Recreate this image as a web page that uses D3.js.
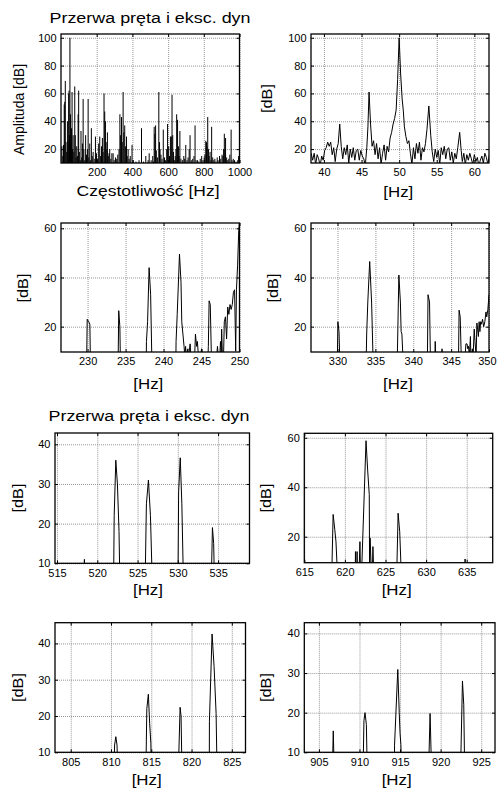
<!DOCTYPE html>
<html><head><meta charset="utf-8">
<script src="https://cdn.jsdelivr.net/npm/d3@7"></script>
<style>
body{margin:0;background:#fff}
svg{display:block}
text{font-family:"Liberation Sans",Arial,sans-serif;fill:#000}
</style>
</head><body>
<svg id="c" width="497" height="789"></svg>
<script>
// ---------- DATA ----------
const titleText = "Przerwa pręta i eksc. dyn";
const xLabelMain = "Częstotliwość [Hz]";
const yLabelMain = "Amplituda [dB]";
const xLabel = "[Hz]";
const yLabel = "[dB]";

// Panel 1: full spectrum spikes [Hz, dB]
const spectrumSpikes = [[5,22],[10,15],[14,23],[18,52],[21,54],[24,69],[28,25],[32,18],[36,40],[40,26],[43,60],[45,62],[48,30],[50,100],[53,45],[56,24],[59,35],[62,61],[65,20],[68,30],[72,18],[77,65],[80,30],[84,14],[88,22],[92,15],[96,45],[99,62],[103,18],[108,12],[112,33],[116,14],[120,24],[124,56],[128,20],[133,12],[138,30],[143,16],[148,20],[152,56],[156,14],[161,24],[166,12],[170,35],[175,15],[180,18],[186,13],[193,29],[199,17],[205,13],[211,24],[217,29],[222,15],[227,22],[232,28],[236,18],[241,60],[245,47],[249,40],[253,25],[257,20],[260,32],[265,15],[269,17],[273,20],[279,13],[285,17],[292,17],[298,12],[305,14],[312,13],[318,16],[325,20],[330,45],[334,30],[339,43],[343,25],[348,61],[352,32],[357,37],[362,22],[367,29],[371,15],[376,20],[382,13],[388,15],[398,23],[405,12],[420,11],[437,12],[451,35],[462,11],[475,15],[488,12],[494,17],[505,12],[514,15],[518,11],[522,36],[526,31],[530,37],[534,19],[540,14],[548,61],[552,25],[555,20],[560,16],[566,13],[573,34],[580,14],[586,12],[592,20],[597,38],[603,22],[608,15],[613,29],[618,29],[622,59],[626,30],[630,18],[635,12],[640,15],[644,20],[648,45],[653,41],[658,22],[662,15],[666,33],[672,13],[680,12],[688,15],[693,13],[699,23],[706,12],[712,14],[718,20],[723,30],[730,12],[738,13],[745,15],[751,37],[757,12],[765,12],[772,11],[780,13],[788,15],[795,12],[802,14],[806,16],[811,26],[815,25],[818,22],[822,43],[826,20],[830,15],[835,18],[840,12],[844,36],[850,14],[856,12],[862,13],[868,11],[875,14],[880,12],[888,15],[895,13],[902,16],[907,15],[911,20],[915,31],[919,20],[922,28],[928,14],[934,12],[940,13],[946,16],[953,34],[958,12],[965,13],[972,12],[980,11],[990,12],[995,15]];

// Panel 2: 38–62 Hz
const band50 = [[38.3,17],[38.5,12],[38.7,17],[38.9,9],[39.1,16],[39.3,13],[39.5,8],[39.7,15],[39.9,12],[40.1,19],[40.3,21],[40.5,25],[40.7,22],[40.9,25],[41.1,16],[41.3,21],[41.5,11],[41.7,20],[41.9,24],[42.1,38],[42.3,22],[42.5,13],[42.7,21],[42.9,16],[43.1,23],[43.3,10],[43.5,20],[43.7,14],[43.9,21],[44.1,12],[44.3,19],[44.5,20],[44.7,12],[44.9,19],[45.1,15],[45.3,13],[45.5,8],[45.7,21],[45.85,36],[46.0,61],[46.2,38],[46.4,22],[46.6,26],[46.8,16],[47.0,24],[47.2,13],[47.4,21],[47.6,9],[47.8,17],[48.0,23],[48.2,12],[48.4,22],[48.6,18],[48.8,28],[49.0,32],[49.2,38],[49.4,42],[49.6,48],[49.8,70],[50.0,100],[50.2,74],[50.4,56],[50.55,48],[50.7,36],[50.9,29],[51.1,24],[51.3,26],[51.5,17],[51.7,9],[51.9,21],[52.1,13],[52.3,24],[52.5,17],[52.7,25],[52.9,12],[53.1,21],[53.3,18],[53.5,24],[53.7,34],[53.95,51],[54.2,30],[54.4,18],[54.6,11],[54.8,20],[55.0,14],[55.2,19],[55.4,9],[55.6,21],[55.8,16],[56.0,22],[56.2,13],[56.4,20],[56.6,21],[56.8,12],[57.0,18],[57.2,10],[57.4,17],[57.6,13],[57.8,21],[58.05,32],[58.25,19],[58.4,11],[58.6,17],[58.8,9],[59.0,16],[59.2,12],[59.4,17],[59.6,13],[59.8,9],[60.0,16],[60.2,11],[60.4,14],[60.6,8],[60.8,12],[61.0,15],[61.2,10],[61.4,17],[61.6,14],[61.8,9],[62.0,16]];

// Panel 3: 226–250 Hz
const band240 = [[229.85,0],[229.95,23],[230.15,22],[230.3,21],[230.4,0],[234.0,0],[234.1,26.5],[234.25,20],[234.35,0],[237.7,0],[237.75,14],[237.9,22],[238.1,44],[238.3,33],[238.5,0],[241.6,0],[241.65,14],[241.8,25],[242.1,49.5],[242.3,38],[242.4,22],[242.55,17],[242.7,12],[242.8,8],[242.9,12],[243.0,8],[243.2,11],[243.3,8],[243.5,13],[243.6,8],[244.1,8],[244.2,17],[244.35,12],[244.45,14],[244.6,8],[244.9,8],[245.0,11],[245.1,8],[245.85,8],[245.9,12],[246.0,30.5],[246.15,29],[246.3,8],[247.0,8],[247.1,12],[247.2,8],[247.4,8],[247.5,14],[247.6,8],[247.65,19],[247.75,8],[247.9,8],[248.0,22],[248.15,24],[248.3,15],[248.45,28],[248.6,25],[248.75,29],[248.9,27],[249.05,29],[249.2,34],[249.35,35],[249.5,10],[249.6,35],[249.75,45],[249.9,59],[250,63]];

// Panel 4: 326–350 Hz
const band340 = [[329.95,0],[330.05,22],[330.2,18],[330.35,0],[333.75,0],[333.85,17],[334.0,30],[334.25,46.5],[334.5,30],[334.75,0],[337.85,0],[338.1,41],[338.3,30],[338.4,18],[338.5,17],[338.75,0],[341.85,0],[341.95,33],[342.15,30],[342.3,0],[342.8,0],[342.9,14],[343.05,0],[343.75,0],[343.8,11],[343.85,0],[345.95,0],[346.05,26.7],[346.2,24],[346.4,0],[346.85,8],[346.95,13],[347.1,13],[347.2,11],[347.3,12],[347.4,8],[347.55,16],[347.6,8],[347.7,8],[347.8,11],[347.9,8],[348.05,19],[348.15,14],[348.3,8],[348.4,21.5],[348.5,19],[348.6,16],[348.7,22],[348.8,18],[348.9,22],[349.0,21],[349.15,23],[349.3,20],[349.45,22],[349.6,26],[349.7,24],[349.85,27],[350,33]];

// Panel 5: 515–539 Hz
const band525 = [[518.35,0],[518.4,11],[518.45,0],[522.0,0],[522.1,22],[522.3,36],[522.5,30],[522.7,18],[522.85,0],[525.9,0],[526.1,25],[526.35,31],[526.6,22],[526.9,0],[530.0,0],[530.1,28],[530.3,36.6],[530.5,25],[530.75,0],[534.1,0],[534.3,19],[534.45,15],[534.6,0]];

// Panel 6: 615–638 Hz
const band625 = [[618.35,0],[618.55,29],[618.75,23],[618.9,18],[619.15,0],[621.25,0],[621.3,14],[621.35,0],[621.45,0],[621.5,14],[621.55,0],[621.7,0],[621.85,18],[621.95,0],[622.0,0],[622.6,58.8],[622.8,47],[623.0,37],[623.05,0],[623.1,19.5],[623.2,11],[623.35,0],[623.45,16],[623.6,0],[626.35,0],[626.55,29.5],[626.75,22],[627.0,0],[634.75,0],[634.8,11],[634.85,0]];

// Panel 7: 803–827 Hz
const band815 = [[810.3,0],[810.45,12],[810.6,14.3],[810.75,12],[810.9,0],[814.3,0],[814.45,22],[814.64,26],[814.8,18],[814.95,12.5],[815.05,0],[818.3,0],[818.58,22.4],[818.7,20],[818.85,0],[822.2,0],[822.22,18.4],[822.55,42.6],[822.8,33.6],[823.05,20.7],[823.2,0]];

// Panel 8: 903–927 Hz
const band915 = [[906.6,0],[906.77,15.4],[906.95,0],[910.4,0],[910.55,18],[910.68,20],[910.85,17],[911.0,0],[914.3,0],[914.32,11.8],[914.72,30.9],[914.9,20],[915.0,14.8],[915.1,12],[915.25,0],[918.45,0],[918.7,19.8],[918.95,0],[922.4,0],[922.69,28],[922.85,22],[923.0,0]];

// Tick values
const ticksX = [[200,400,600,800,1000],[40,45,50,55,60],[230,235,240,245,250],[330,335,340,345,350],[515,520,525,530,535],[615,620,625,630,635],[805,810,815,820,825],[905,910,915,920,925]];
const ticksY = [[20,40,60,80,100],[20,40,60,80,100],[20,40,60],[20,40,60],[10,20,30,40],[20,40,60],[10,20,30,40],[10,20,30,40]];
const domainsX = [[0,1000],[38.28,61.95],[226.5,250],[326.5,350],[514.75,538.9],[615,638.2],[803.05,826.7],[903.2,926.7]];
const domainsY = [[10,102.7],[10,102.7],[9.7,62.15],[9.7,62.15],[10,42.85],[9.5,61.8],[10,45.7],[10,42.7]];
const series = [spectrumSpikes, band50, band240, band340, band525, band625, band815, band915];

// ---------- LAYOUT ----------
const boxes = [
  {x0:61, x1:239.5, y0:34, y1:163},
  {x0:311, x1:489, y0:34, y1:163},
  {x0:61, x1:239.5, y0:223, y1:352},
  {x0:311, x1:489, y0:223, y1:352},
  {x0:55, x1:249.5, y0:433, y1:563.3},
  {x0:304.3, x1:492.7, y0:433.3, y1:562.7},
  {x0:55, x1:245.5, y0:622.7, y1:752.3},
  {x0:304.3, x1:495, y0:622.7, y1:752.3}
];

const svg = d3.select("#c");
const defs = svg.append("defs");

boxes.forEach((b, i) => {
  const x = d3.scaleLinear().domain(domainsX[i]).range([b.x0, b.x1]);
  const y = d3.scaleLinear().domain(domainsY[i]).range([b.y1, b.y0]);
  const w = b.x1 - b.x0, h = b.y1 - b.y0;
  defs.append("clipPath").attr("id", "clip" + i)
    .append("rect").attr("x", b.x0).attr("y", b.y0).attr("width", w).attr("height", h);
  const g = svg.append("g");

  // grid
  const gx = g.append("g").attr("transform", `translate(0,${b.y1})`)
    .call(d3.axisBottom(x).tickValues(ticksX[i]).tickSize(-h).tickFormat(""));
  const gy = g.append("g").attr("transform", `translate(${b.x0},0)`)
    .call(d3.axisLeft(y).tickValues(ticksY[i]).tickSize(-w).tickFormat(""));
  [gx, gy].forEach(a => {
    a.select(".domain").remove();
    a.selectAll("line").attr("stroke", "#8a8a8a").attr("stroke-width", 0.9).attr("stroke-dasharray", "1,1");
  });

  // data
  const dg = g.append("g").attr("clip-path", `url(#clip${i})`);
  if (i === 0) {
    dg.selectAll("line").data(series[0]).join("line")
      .attr("x1", d => x(d[0])).attr("x2", d => x(d[0]))
      .attr("y1", y(domainsY[0][0])).attr("y2", d => y(d[1]))
      .attr("stroke", "#000").attr("stroke-width", 1);
  } else {
    dg.append("path").datum(series[i])
      .attr("d", d3.line().x(d => x(d[0])).y(d => y(d[1])))
      .attr("fill", "none").attr("stroke", "#000").attr("stroke-width", 1)
      .attr("stroke-linejoin", "round");
  }

  // tick labels
  const lx = g.append("g").attr("transform", `translate(0,${b.y1})`)
    .call(d3.axisBottom(x).tickValues(ticksX[i]).tickSize(0).tickPadding(5.5).tickFormat(d3.format("d")));
  const ly = g.append("g").attr("transform", `translate(${b.x0},0)`)
    .call(d3.axisLeft(y).tickValues(ticksY[i]).tickSize(0).tickPadding(4.5).tickFormat(d3.format("d")));
  [lx, ly].forEach(a => {
    a.select(".domain").remove();
    a.selectAll("text").attr("font-size", 11).attr("font-family", "Liberation Sans, Arial, sans-serif").attr("fill", "#000");
  });
  // keep the right-most label of the right column inside the window
  lx.selectAll("text").filter(d => x(d) + 10 > 497).attr("text-anchor", "end").attr("dx", 0).attr("x", d => 496 - x(d));

  // inward ticks on all four sides
  const tk = [
    g.append("g").attr("transform", `translate(0,${b.y1})`).call(d3.axisBottom(x).tickValues(ticksX[i]).tickSize(-3).tickFormat("")),
    g.append("g").attr("transform", `translate(0,${b.y0})`).call(d3.axisTop(x).tickValues(ticksX[i]).tickSize(-3).tickFormat("")),
    g.append("g").attr("transform", `translate(${b.x0},0)`).call(d3.axisLeft(y).tickValues(ticksY[i]).tickSize(-3).tickFormat("")),
    g.append("g").attr("transform", `translate(${b.x1},0)`).call(d3.axisRight(y).tickValues(ticksY[i]).tickSize(-3).tickFormat(""))
  ];
  tk.forEach(a => { a.select(".domain").remove(); a.selectAll("line").attr("stroke", "#000"); });

  // frame
  g.append("rect").attr("x", b.x0).attr("y", b.y0).attr("width", w).attr("height", h)
    .attr("fill", "none").attr("stroke", "#000").attr("stroke-width", 1.3);
});

// ---------- TEXT LABELS ----------
function hText(str, cx, base, size, len) {
  const t = svg.append("text").attr("x", cx).attr("y", base).attr("text-anchor", "middle")
    .attr("font-size", size).text(str);
  if (len) t.attr("textLength", len).attr("lengthAdjust", "spacingAndGlyphs");
  return t;
}
function vText(str, cx, cy, size, len) {
  const t = svg.append("text").attr("transform", `translate(${cx},${cy}) rotate(-90)`)
    .attr("text-anchor", "middle").attr("dy", "0.35em").attr("font-size", size).text(str);
  if (len) t.attr("textLength", len).attr("lengthAdjust", "spacingAndGlyphs");
  return t;
}

hText(titleText, 150, 22.5, 14, 201);
hText(titleText, 149, 420.5, 14, 201);
hText(xLabelMain, 148, 196, 14, 143);
vText(yLabelMain, 19, 109.5, 14);

const hzPos = [null, [398.3,196.5],[148.3,388.7],[398,388.7],[148,595.3],[396.7,595.3],[146.7,785],[396.7,785]];
const dbPos = [null, [267,98.5],[23.3,288],[273,288],[17.7,498],[266,498],[17.7,687.5],[266,687.5]];
for (let i = 1; i < 8; i++) {
  hText(xLabel, hzPos[i][0], hzPos[i][1], 14, 30);
  vText(yLabel, dbPos[i][0], dbPos[i][1], 14, 29);
}
</script>
</body></html>
